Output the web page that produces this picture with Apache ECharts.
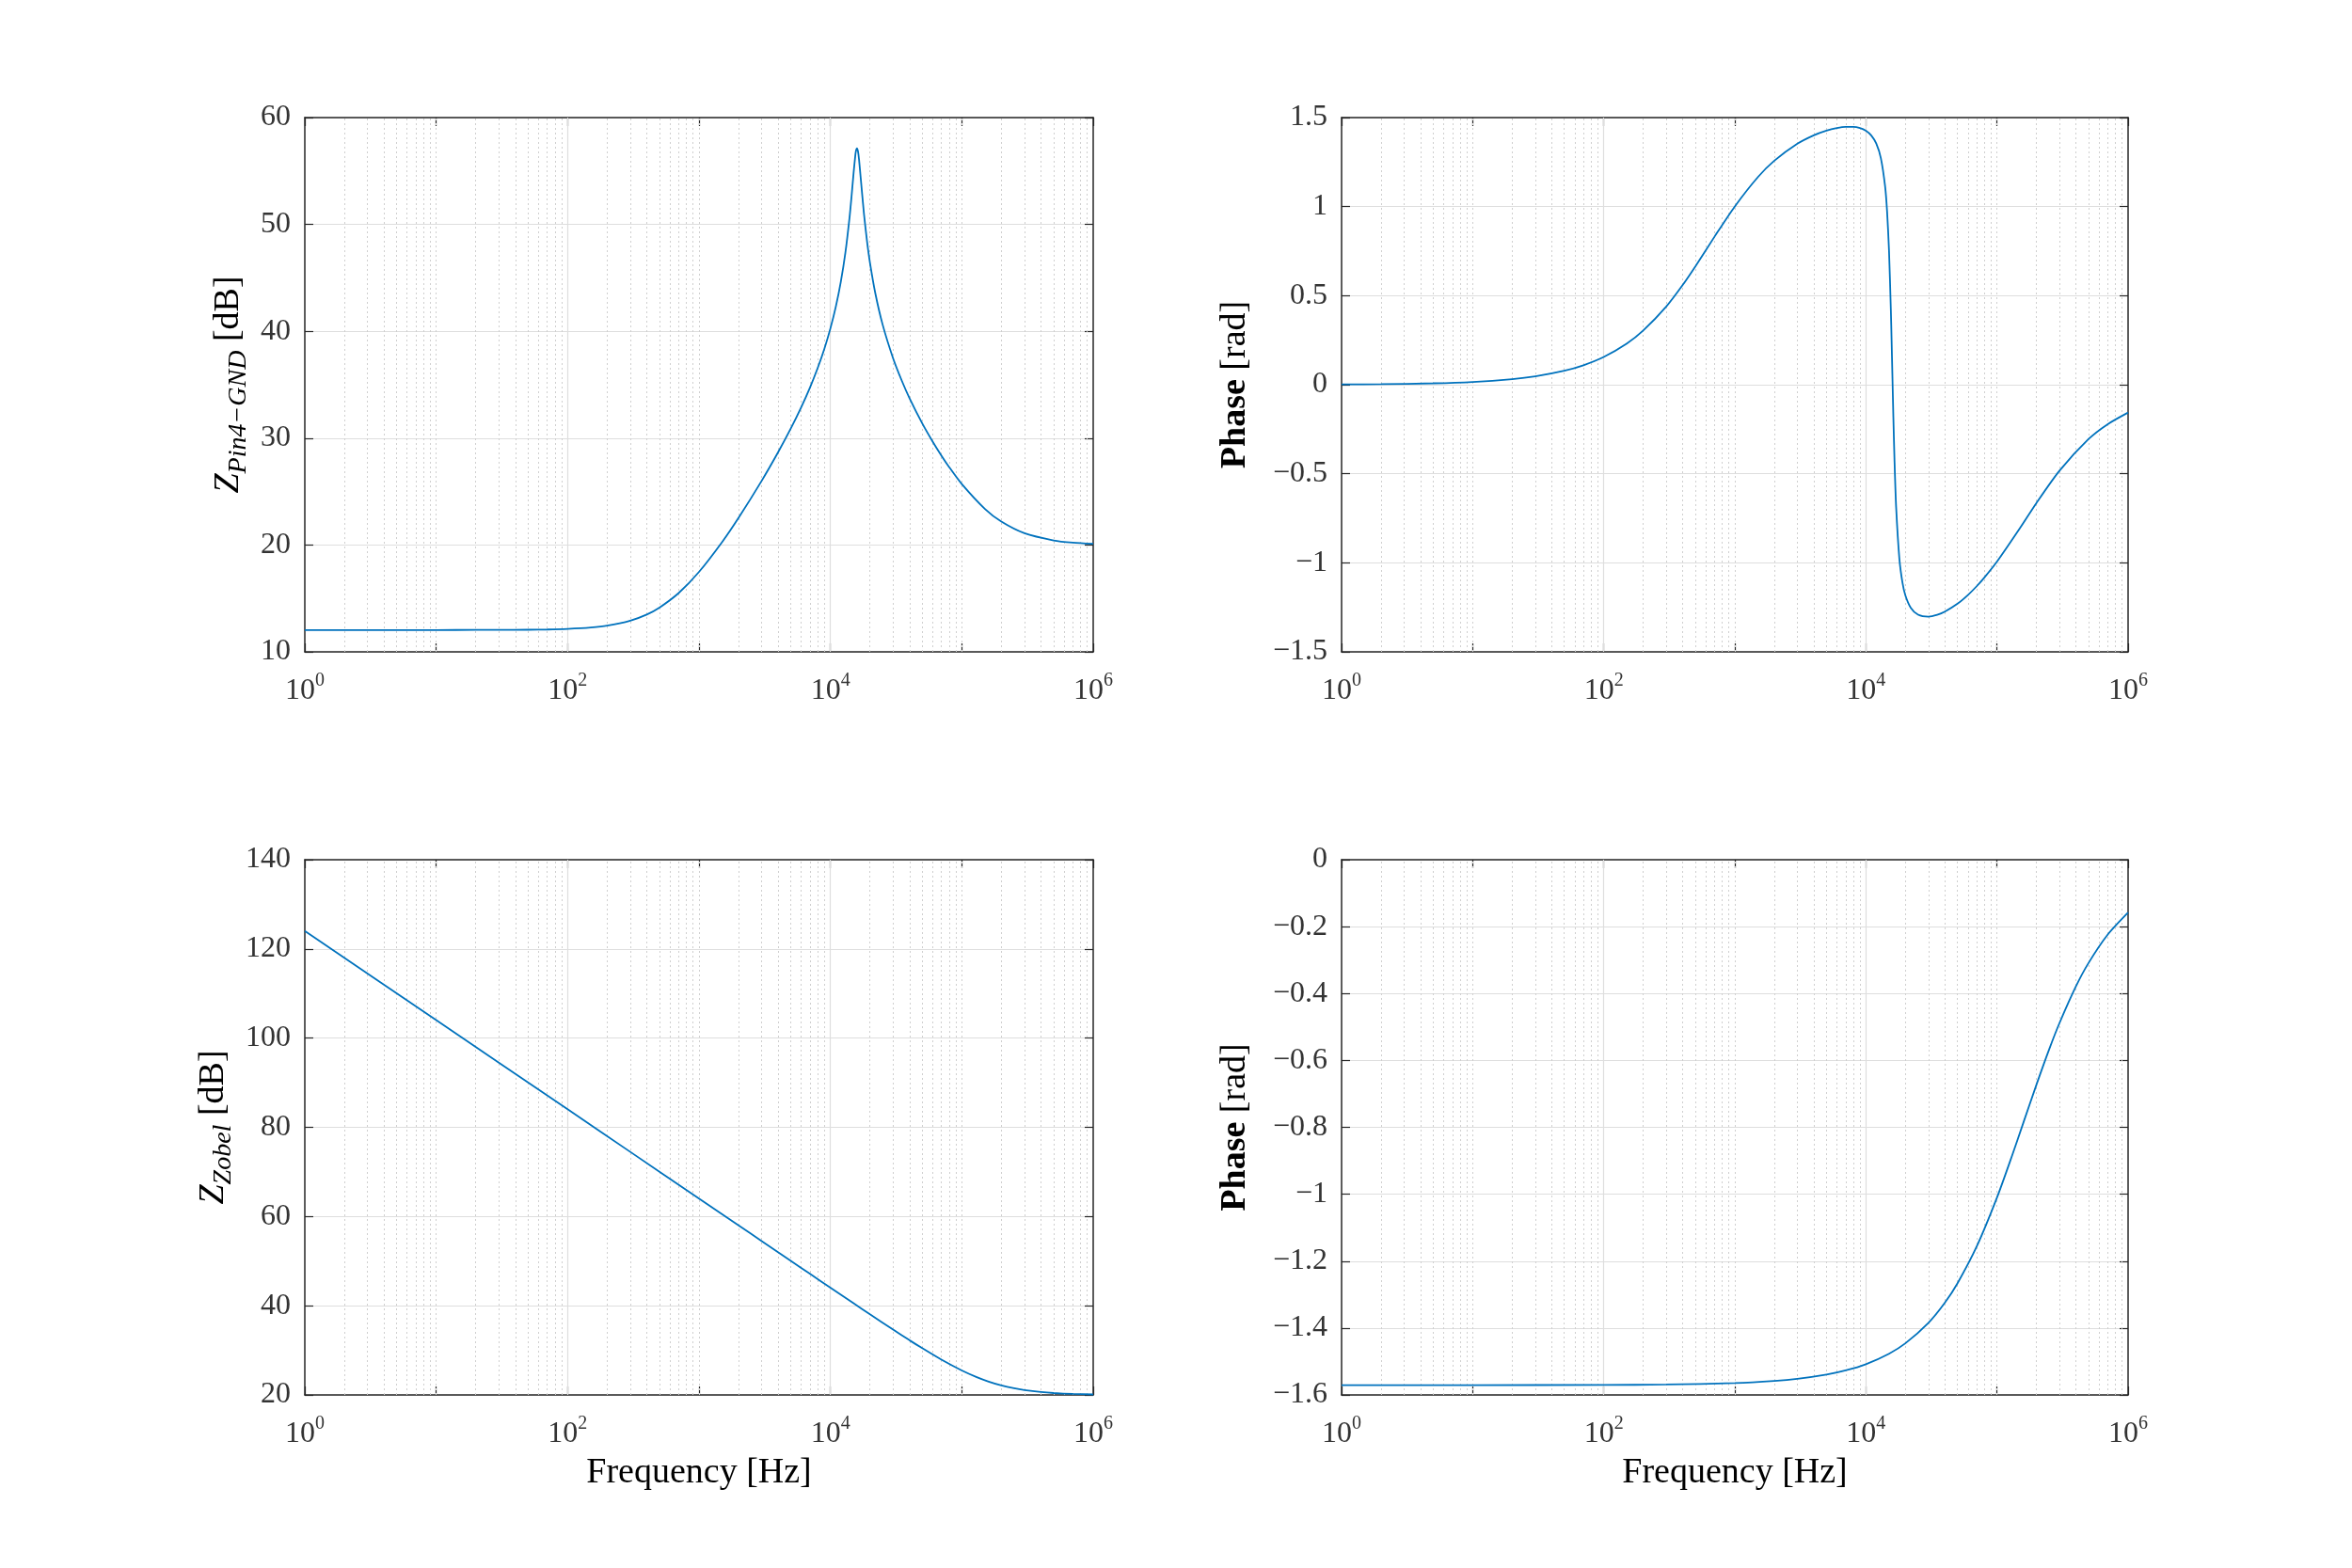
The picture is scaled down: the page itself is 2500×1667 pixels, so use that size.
<!DOCTYPE html>
<html>
<head>
<meta charset="utf-8">
<script src="https://cdn.jsdelivr.net/npm/echarts@6/dist/echarts.min.js"></script>
<style>
html,body{margin:0;padding:0;background:#fff;}
#chart{width:2500px;height:1667px;}
</style>
</head>
<body>
<div id="chart"></div>
<script>
// ---------------- data ----------------
const freqPin = [1, 2, 5, 10, 20, 30, 50, 70, 100, 150, 200, 300, 400, 500, 700, 1000, 1500, 2000, 3000, 4000, 5000, 6000, 7000, 8000, 9000, 10000, 11000, 12000, 13000, 14000, 14500, 15000, 15500, 15700, 15915, 16200, 16500, 17000, 18000, 19000, 20000, 22000, 25000, 30000, 35000, 40000, 50000, 60000, 70000, 80000, 100000, 150000, 200000, 300000, 500000, 700000, 1000000];
const magPin = [12.04, 12.04, 12.04, 12.04, 12.05, 12.05, 12.07, 12.09, 12.15, 12.28, 12.45, 12.92, 13.49, 14.14, 15.50, 17.48, 20.28, 22.54, 26.01, 28.68, 30.91, 32.90, 34.75, 36.56, 38.37, 40.27, 42.32, 44.63, 47.35, 50.71, 52.69, 54.78, 56.55, 56.97, 57.13, 56.86, 56.11, 54.37, 51.00, 48.41, 46.42, 43.52, 40.60, 37.47, 35.35, 33.74, 31.38, 29.68, 28.36, 27.30, 25.70, 23.37, 22.19, 21.10, 20.43, 20.22, 20.11];
const phasePin = [0.0016, 0.0031, 0.0078, 0.0156, 0.0314, 0.0470, 0.0783, 0.1093, 0.1556, 0.2310, 0.3040, 0.4393, 0.5598, 0.6645, 0.8312, 1.0012, 1.1659, 1.2576, 1.3532, 1.4006, 1.4268, 1.4413, 1.4479, 1.4477, 1.4408, 1.4256, 1.3988, 1.3536, 1.2724, 1.1147, 0.9737, 0.7544, 0.4175, 0.2503, 0.0597, -0.1858, -0.4110, -0.6868, -0.9776, -1.1108, -1.1830, -1.2530, -1.2917, -1.3027, -1.2924, -1.2744, -1.2296, -1.1808, -1.1316, -1.0837, -0.9933, -0.8042, -0.6638, -0.4826, -0.3048, -0.2213, -0.1563];

const freqZobel = [1, 10, 100, 300, 1000, 2000, 3000, 5000, 7000, 10000, 15000, 20000, 30000, 40000, 50000, 70000, 100000, 130000, 160000, 200000, 250000, 300000, 400000, 500000, 700000, 1000000];
const magZobel = [124.04, 104.04, 84.04, 74.49, 64.04, 58.02, 54.49, 50.06, 47.14, 44.05, 40.55, 38.08, 34.65, 32.26, 30.47, 27.90, 25.48, 23.98, 22.99, 22.13, 21.48, 21.08, 20.64, 20.42, 20.22, 20.11];
const phaseZobel = [-1.5708, -1.5707, -1.5702, -1.5689, -1.5645, -1.5582, -1.5520, -1.5394, -1.5268, -1.5081, -1.4768, -1.4458, -1.3845, -1.3245, -1.2661, -1.1564, -1.0099, -0.8858, -0.7828, -0.6723, -0.5669, -0.4879, -0.3787, -0.3082, -0.2236, -0.1579];

// tick labels
const xLabelExponents = [0, 2, 4, 6];
const magPinTicks = [10, 20, 30, 40, 50, 60];
const phasePinTicks = [-1.5, -1, -0.5, 0, 0.5, 1, 1.5];
const magZobelTicks = [20, 40, 60, 80, 100, 120, 140];
const phaseZobelTicks = [-1.6, -1.4, -1.2, -1, -0.8, -0.6, -0.4, -0.2, 0];

// x grid lines (axis values)
const majorGridFreqs = [100, 10000];
const minorGridFreqs = [2,3,4,5,6,7,8,9,10,20,30,40,50,60,70,80,90,200,300,400,500,600,700,800,900,1000,2000,3000,4000,5000,6000,7000,8000,9000,20000,30000,40000,50000,60000,70000,80000,90000,100000,200000,300000,400000,500000,600000,700000,800000,900000];

// ---------------- styling ----------------
const SERIF = '"Liberation Serif", "DejaVu Serif", serif';
const AXC = '#262626';
const LBL = '#333333';
const LINE = '#0072BD';
const GRID_MAJOR = '#dedede';
const GRID_MINOR = '#cfcfcf';

const grids = [
  {left: 324, top: 125, width: 838, height: 568},
  {left: 1426, top: 125, width: 836, height: 568},
  {left: 324, top: 914, width: 838, height: 569},
  {left: 1426, top: 914, width: 836, height: 569}
];

function fmtY(v) {
  const r = Math.round(v * 1000) / 1000;
  return (r < 0 ? '\u2212' : '') + Math.abs(r);
}
function fmtX(v) {
  const e = Math.round(Math.log10(v));
  return xLabelExponents.indexOf(e) >= 0 ? '{b|10}{s|' + e + '}' : '';
}

const panels = [
  {ticks: magPinTicks, freq: freqPin, vals: magPin,
   name: '{z|Z}{sub|Pin4\u2212GND}{u| [dB]}', nameGap: 62, xName: ''},
  {ticks: phasePinTicks, freq: freqPin, vals: phasePin,
   name: '{p|Phase}{u| [rad]}', nameGap: 94, xName: ''},
  {ticks: magZobelTicks, freq: freqZobel, vals: magZobel,
   name: '{z|Z}{sub|Zobel}{u| [dB]}', nameGap: 78, xName: 'Frequency [Hz]'},
  {ticks: phaseZobelTicks, freq: freqZobel, vals: phaseZobel,
   name: '{p|Phase}{u| [rad]}', nameGap: 94, xName: 'Frequency [Hz]'}
];

const nameRich = {
  z: {fontFamily: SERIF, fontSize: 38, fontStyle: 'italic', color: '#000', lineHeight: 38},
  sub: {fontFamily: SERIF, fontSize: 28, fontStyle: 'italic', color: '#000', lineHeight: 28, padding: [22, 0, 0, 0]},
  u: {fontFamily: SERIF, fontSize: 38, color: '#000', lineHeight: 38},
  p: {fontFamily: SERIF, fontSize: 38, fontWeight: 'bold', color: '#000', lineHeight: 38}
};

const xAxes = [], yAxes = [], series = [];
panels.forEach((p, i) => {
  const minY = p.ticks[0], maxY = p.ticks[p.ticks.length - 1];
  const step = Math.round((p.ticks[1] - p.ticks[0]) * 1e6) / 1e6;
  xAxes.push({
    type: 'log', logBase: 10, gridIndex: i, min: 1, max: 1000000, position: 'bottom',
    axisLine: {show: true, onZero: false, lineStyle: {color: AXC, width: 1.5}},
    axisTick: {show: true, inside: true, length: 9, lineStyle: {color: AXC, width: 1.2}},
    axisLabel: {
      show: true, margin: 26, formatter: fmtX, color: LBL, fontFamily: SERIF, fontSize: 32,
      rich: {
        b: {fontFamily: SERIF, fontSize: 32, color: LBL, lineHeight: 32},
        s: {fontFamily: SERIF, fontSize: 20, color: LBL, lineHeight: 20, padding: [0, 0, 22, 0]}
      }
    },
    splitLine: {show: false},
    name: p.xName, nameLocation: 'middle', nameGap: 64,
    nameTextStyle: {fontFamily: SERIF, fontSize: 38, color: '#000'}
  });
  xAxes.push({
    type: 'log', logBase: 10, gridIndex: i, min: 1, max: 1000000, position: 'top',
    axisLine: {show: true, onZero: false, lineStyle: {color: AXC, width: 1.5}},
    axisTick: {show: true, inside: true, length: 9, lineStyle: {color: AXC, width: 1.2}},
    axisLabel: {show: false}, splitLine: {show: false}
  });
  yAxes.push({
    type: 'value', gridIndex: i, min: minY, max: maxY, interval: step, position: 'left',
    axisLine: {show: true, onZero: false, lineStyle: {color: AXC, width: 1.5}},
    axisTick: {show: true, inside: true, length: 9, lineStyle: {color: AXC, width: 1.2}},
    axisLabel: {show: true, margin: 15, formatter: fmtY, color: LBL, fontFamily: SERIF, fontSize: 32},
    splitLine: {show: true, lineStyle: {color: GRID_MAJOR, width: 1.2}},
    name: p.name, nameLocation: 'middle', nameGap: p.nameGap, nameRotate: 90,
    nameTextStyle: {fontFamily: SERIF, fontSize: 38, color: '#000', rich: nameRich}
  });
  yAxes.push({
    type: 'value', gridIndex: i, min: minY, max: maxY, interval: step, position: 'right',
    axisLine: {show: true, onZero: false, lineStyle: {color: AXC, width: 1.5}},
    axisTick: {show: true, inside: true, length: 9, lineStyle: {color: AXC, width: 1.2}},
    axisLabel: {show: false}, splitLine: {show: false}
  });
  const gridLineData = majorGridFreqs.map(f => ({xAxis: f, lineStyle: {type: 'solid', color: GRID_MAJOR, width: 1.2}}))
    .concat(minorGridFreqs.map(f => ({xAxis: f, lineStyle: {type: [2, 3], color: GRID_MINOR, width: 1}})));
  series.push({
    type: 'line', xAxisIndex: 2 * i, yAxisIndex: 2 * i,
    data: p.freq.map((f, k) => [f, p.vals[k]]),
    showSymbol: false, symbol: 'none', smooth: 0.25,
    lineStyle: {color: LINE, width: 1.8},
    itemStyle: {color: LINE},
    z: 3,
    markLine: {
      silent: true, symbol: ['none', 'none'], label: {show: false}, z: 1,
      animation: false, emphasis: {disabled: true},
      data: gridLineData
    }
  });
});

const chart = echarts.init(document.getElementById('chart'), null, {renderer: 'canvas', width: 2500, height: 1667});
chart.setOption({
  backgroundColor: '#ffffff',
  animation: false,
  grid: grids.map(g => Object.assign({containLabel: false, outerBoundsMode: 'none'}, g)),
  xAxis: xAxes,
  yAxis: yAxes,
  series: series
});
</script>
</body>
</html>
